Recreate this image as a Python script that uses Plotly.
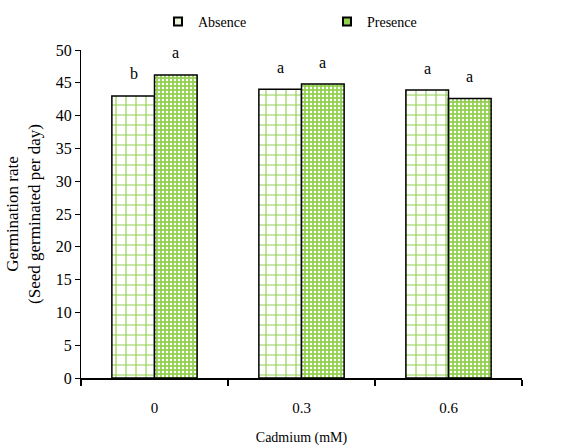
import plotly.graph_objects as go

categories = ["0", "0.3", "0.6"]
absence = [43.0, 44.0, 43.9]
presence = [46.2, 44.8, 42.6]
absence_letters = ["b", "a", "a"]
presence_letters = ["a", "a", "a"]
series_names = ["Absence", "Presence"]
y_ticks = [0, 5, 10, 15, 20, 25, 30, 35, 40, 45, 50]

GREEN = "#92D050"
FONT = "Liberation Serif"

fig = go.Figure()
fig.add_trace(go.Bar(
    x=categories, y=absence, name=series_names[0], offsetgroup="A",
    marker=dict(color="white", line=dict(color="black", width=1.5),
                pattern=dict(shape="+", fgcolor=GREEN, bgcolor="white",
                             size=10, solidity=0.22, fillmode="replace")),
    showlegend=False,
))
fig.add_trace(go.Bar(
    x=categories, y=presence, name=series_names[1], offsetgroup="P",
    marker=dict(color=GREEN, line=dict(color="black", width=1.5),
                pattern=dict(shape=".", fgcolor="white", bgcolor=GREEN,
                             size=4, solidity=0.3, fillmode="replace")),
    showlegend=False,
))
# legend proxies
fig.add_trace(go.Scatter(x=[None], y=[None], mode="markers", name=series_names[0],
                         marker=dict(symbol="square", size=8, color="#EAF5DC",
                                     line=dict(color="black", width=2))))
fig.add_trace(go.Scatter(x=[None], y=[None], mode="markers", name=series_names[1],
                         marker=dict(symbol="square", size=8, color=GREEN,
                                     line=dict(color="black", width=2))))

annotations = []
for i in range(len(categories)):
    annotations.append(dict(x=i, y=absence[i], text=absence_letters[i], xref="x", yref="y",
                            xshift=-21, yshift=22, showarrow=False,
                            font=dict(family=FONT, size=16, color="black")))
    annotations.append(dict(x=i, y=presence[i], text=presence_letters[i], xref="x", yref="y",
                            xshift=21, yshift=22, showarrow=False,
                            font=dict(family=FONT, size=16, color="black")))

fig.update_layout(
    width=566, height=446,
    margin=dict(l=81, r=44, t=50, b=68, autoexpand=False),
    paper_bgcolor="white", plot_bgcolor="white",
    font=dict(family=FONT, size=15, color="black"),
    barmode="group", bargap=0.42, bargroupgap=0,
    annotations=annotations,
    legend=dict(orientation="h", xref="container", yref="container",
                x=158 / 566, xanchor="left", y=1 - 22 / 446, yanchor="middle",
                font=dict(family=FONT, size=14), entrywidth=124, entrywidthmode="pixels",
                itemwidth=30, bgcolor="rgba(0,0,0,0)"),
    xaxis=dict(type="category", tickson="boundaries", ticks="outside", ticklen=6,
               tickcolor="black", tickwidth=1.5, showline=True, linecolor="black", linewidth=2,
               showgrid=False, ticklabelstandoff=15, tickfont=dict(size=15), automargin=False,
               title=dict(text="Cadmium (mM)", font=dict(size=14), standoff=17)),
    yaxis=dict(range=[0, 50], tickvals=y_ticks, ticks="outside", ticklen=5,
               tickcolor="black", showline=True, linecolor="black", linewidth=1,
               showgrid=False, zeroline=False, tickfont=dict(size=16), automargin=False,
               title=dict(text="Germination rate<br>(Seed germinated per day)",
                          font=dict(size=17), standoff=10)),
)

fig.write_html("out.html")
